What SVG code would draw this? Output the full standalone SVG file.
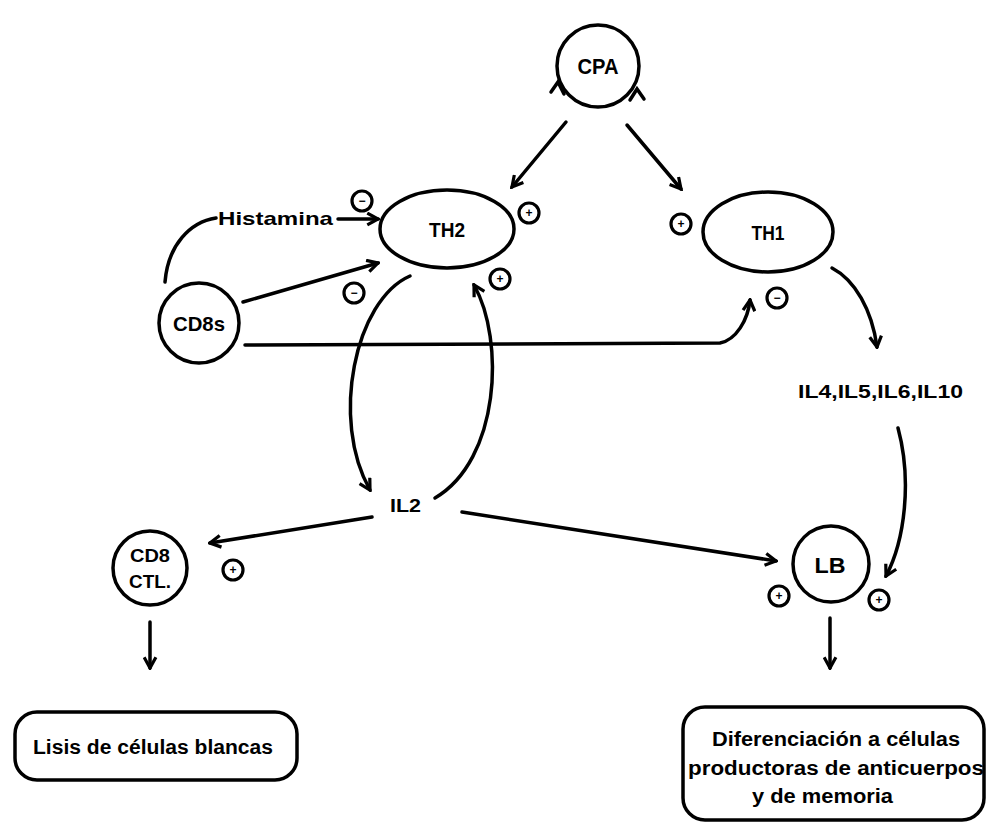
<svg xmlns="http://www.w3.org/2000/svg" width="988" height="824" viewBox="0 0 988 824">
<style>
.s{fill:none;stroke:#000;stroke-width:3.5;stroke-linecap:round}
.t{font-family:"Liberation Sans",Arial,sans-serif;font-weight:bold;fill:#000}
.sg{fill:#fff;stroke:#000;stroke-width:3.2}
.sgt{font-family:"Liberation Sans",Arial,sans-serif;font-weight:bold;font-size:12px;fill:#000;text-anchor:middle}
</style>
<defs>
<marker id="ah" viewBox="0 0 14 14" refX="12" refY="7" markerWidth="15" markerHeight="15" markerUnits="userSpaceOnUse" orient="auto">
<path d="M2,1.5 L12,7 L2,12.5" fill="none" stroke="#000" stroke-width="3"/>
</marker>
</defs>
<rect width="988" height="824" fill="#fff"/>

<g id="CPA">
<circle cx="598" cy="66" r="41" class="s"/>
<text x="598" y="74" class="t" font-size="22" text-anchor="middle" textLength="41" lengthAdjust="spacingAndGlyphs">CPA</text>
<path d="M551,92 L558,82 L564,94" class="s" stroke-width="3"/>
<path d="M630,100 L637,89 L644,99" class="s" stroke-width="3"/>
</g>

<g id="TH2">
<ellipse cx="447" cy="229" rx="67" ry="39" class="s"/>
<text x="447" y="237" class="t" font-size="21" text-anchor="middle" textLength="36" lengthAdjust="spacingAndGlyphs">TH2</text>
</g>

<g id="TH1">
<ellipse cx="768" cy="232" rx="65" ry="40" class="s"/>
<text x="768" y="240" class="t" font-size="21" text-anchor="middle" textLength="33" lengthAdjust="spacingAndGlyphs">TH1</text>
</g>

<g id="CD8s">
<circle cx="199" cy="323" r="40" class="s"/>
<text x="199" y="331" class="t" font-size="21" text-anchor="middle" textLength="52" lengthAdjust="spacingAndGlyphs">CD8s</text>
</g>

<g id="Histamina">
<text x="218" y="225" class="t" font-size="19" textLength="115" lengthAdjust="spacingAndGlyphs">Histamina</text>
</g>

<g id="IL4">
<text x="798" y="398" class="t" font-size="19" textLength="165" lengthAdjust="spacingAndGlyphs">IL4,IL5,IL6,IL10</text>
</g>

<g id="IL2">
<text x="390" y="512" class="t" font-size="19" textLength="31" lengthAdjust="spacingAndGlyphs">IL2</text>
</g>

<g id="CD8CTL">
<circle cx="150" cy="568" r="37" class="s"/>
<text x="150" y="562" class="t" font-size="18" text-anchor="middle" textLength="40" lengthAdjust="spacingAndGlyphs">CD8</text>
<text x="150" y="588" class="t" font-size="18" text-anchor="middle" textLength="42" lengthAdjust="spacingAndGlyphs">CTL.</text>
</g>

<g id="LB">
<circle cx="831" cy="564" r="38" class="s"/>
<text x="830" y="573" class="t" font-size="22" text-anchor="middle" textLength="31" lengthAdjust="spacingAndGlyphs">LB</text>
</g>

<g id="Lisis">
<rect x="15" y="712" width="282" height="68" rx="22" class="s"/>
<text x="153" y="754" class="t" font-size="20" text-anchor="middle" textLength="240" lengthAdjust="spacingAndGlyphs">Lisis de células blancas</text>
</g>

<g id="Diferenciacion">
<rect x="683" y="707" width="301" height="113" rx="22" class="s"/>
<text x="712" y="746" class="t" font-size="20" textLength="248" lengthAdjust="spacingAndGlyphs">Diferenciación a células</text>
<text x="688" y="775" class="t" font-size="20" textLength="296" lengthAdjust="spacingAndGlyphs">productoras de anticuerpos</text>
<text x="752" y="803" class="t" font-size="20" textLength="141" lengthAdjust="spacingAndGlyphs">y de memoria</text>
</g>

<g id="signs">
<circle cx="362" cy="201" r="10" class="sg"/><text x="362" y="205" class="sgt">−</text>
<circle cx="529" cy="213" r="10" class="sg"/><text x="529" y="217" class="sgt">+</text>
<circle cx="500" cy="279" r="10" class="sg"/><text x="500" y="283" class="sgt">+</text>
<circle cx="354" cy="293" r="10" class="sg"/><text x="354" y="297" class="sgt">−</text>
<circle cx="681" cy="224" r="10" class="sg"/><text x="681" y="228" class="sgt">+</text>
<circle cx="777" cy="298" r="10" class="sg"/><text x="777" y="302" class="sgt">−</text>
<circle cx="233" cy="570" r="10" class="sg"/><text x="233" y="574" class="sgt">+</text>
<circle cx="779" cy="596" r="10" class="sg"/><text x="779" y="600" class="sgt">+</text>
<circle cx="879" cy="600" r="10" class="sg"/><text x="879" y="604" class="sgt">+</text>
</g>

<g id="connectors">
<path d="M566,122 L512,187" class="s" marker-end="url(#ah)"/>
<path d="M627,125 L681,189" class="s" marker-end="url(#ah)"/>
<path d="M165,282 C168,245 190,222 216,218" class="s"/>
<path d="M338,219 L378,219" class="s" marker-end="url(#ah)"/>
<path d="M243,302 L378,263" class="s" marker-end="url(#ah)"/>
<path d="M245,345 L720,343 C736,340 748,320 750,300" class="s" marker-end="url(#ah)"/>
<path d="M410,276 C355,300 330,420 370,490" class="s" marker-end="url(#ah)"/>
<path d="M435,498 C500,460 505,340 474,285" class="s" marker-end="url(#ah)"/>
<path d="M832,268 C855,280 872,310 877,347" class="s" marker-end="url(#ah)"/>
<path d="M898,428 C912,480 905,540 886,576" class="s" marker-end="url(#ah)"/>
<path d="M462,512 L776,561" class="s" marker-end="url(#ah)"/>
<path d="M372,517 L210,543" class="s" marker-end="url(#ah)"/>
<path d="M150,622 L150,668" class="s" marker-end="url(#ah)"/>
<path d="M830,618 L830,668" class="s" marker-end="url(#ah)"/>
</g>
</svg>
